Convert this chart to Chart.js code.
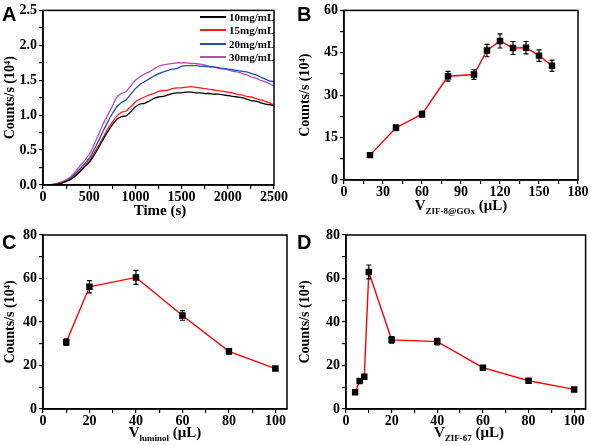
<!DOCTYPE html>
<html>
<head>
<meta charset="utf-8">
<script src="https://cdn.jsdelivr.net/npm/chart.js@4.4.0/dist/chart.umd.min.js"></script>
<style>
  body { margin: 0; background: #fff; width: 591px; height: 446px; position: relative; overflow: hidden; }
  canvas { position: absolute; }
  .letra { position: absolute; font: bold 20px "Liberation Sans", Arial, sans-serif; line-height: 1; color: #000; }
  .xt { position: absolute; font: bold 15px "Liberation Serif", serif; white-space: nowrap; transform: translateX(-50%); color: #000; line-height: 1; }
  .xt sub { font-size: 9px; vertical-align: -4px; }
  .leyenda { position: absolute; left: 200px; top: 10px; font: bold 11px "Liberation Serif", serif; color: #000; }
  .leyenda div { height: 13.5px; display: flex; align-items: center; }
  .leyenda span.linea { display: inline-block; width: 26px; height: 2px; margin-right: 3px; }
</style>
</head>
<body>

<canvas id="chartA" width="295" height="220" style="left:0;top:0"></canvas>
<canvas id="chartB" width="296" height="220" style="left:295px;top:0"></canvas>
<canvas id="chartC" width="295" height="226" style="left:0;top:220px"></canvas>
<canvas id="chartD" width="296" height="226" style="left:295px;top:220px"></canvas>

<div class="letra" style="left:2px;top:4px">A</div>
<div class="letra" style="left:297px;top:4px">B</div>
<div class="letra" style="left:2px;top:232px">C</div>
<div class="letra" style="left:297px;top:232px">D</div>

<div class="xt" style="left:160px;top:203px">Time (s)</div>
<div class="xt" style="left:461px;top:198px">V<sub>ZIF-8@GOx</sub> (μL)</div>
<div class="xt" style="left:165px;top:425px">V<sub>luminol</sub> (μL)</div>
<div class="xt" style="left:469px;top:425px">V<sub>ZIF-67</sub> (μL)</div>

<div class="leyenda" id="leyendaA"></div>

<script>
// ---------- Datos del panel A (cinética) ----------
const tiempo = [0,50,100,150,200,250,300,350,400,450,500,550,600,650,700,750,800,850,900,950,
  1000,1050,1100,1150,1200,1250,1300,1350,1400,1450,1500,1550,1600,1650,1700,1750,1800,1850,1900,1950,
  2000,2050,2100,2150,2200,2250,2300,2350,2400,2450,2500];
const serieNombres = ['10mg/mL', '15mg/mL', '20mg/mL', '30mg/mL'];
const serieColores = ['#000000', '#ff1a1a', '#1f4fb0', '#b450b4'];
const conc10 = [0,0,0.005,0.01,0.025,0.05,0.08,0.13,0.19,0.26,0.32,0.42,0.53,0.65,0.76,0.86,0.94,0.98,0.99,1.05,
  1.12,1.16,1.17,1.2,1.24,1.26,1.27,1.29,1.31,1.32,1.32,1.33,1.33,1.32,1.32,1.31,1.31,1.3,1.3,1.29,
  1.28,1.27,1.26,1.25,1.23,1.21,1.2,1.18,1.16,1.15,1.13];
const conc15 = [0,0,0.005,0.012,0.03,0.055,0.09,0.14,0.2,0.27,0.34,0.45,0.56,0.68,0.8,0.9,0.99,1.04,1.06,1.12,
  1.19,1.23,1.26,1.29,1.31,1.34,1.35,1.36,1.38,1.39,1.39,1.4,1.41,1.4,1.39,1.38,1.37,1.36,1.35,1.34,
  1.33,1.32,1.3,1.29,1.27,1.26,1.24,1.22,1.2,1.18,1.14];
const conc20 = [0,0,0.005,0.015,0.035,0.06,0.1,0.16,0.23,0.3,0.38,0.5,0.63,0.77,0.9,1.02,1.12,1.18,1.22,1.3,
  1.38,1.44,1.48,1.52,1.56,1.59,1.62,1.64,1.66,1.67,1.7,1.71,1.71,1.71,1.7,1.7,1.69,1.69,1.68,1.67,
  1.66,1.65,1.64,1.63,1.62,1.6,1.58,1.55,1.52,1.49,1.48];
const conc30 = [0,0,0.008,0.02,0.045,0.075,0.12,0.19,0.27,0.35,0.44,0.57,0.72,0.87,1.0,1.13,1.26,1.31,1.34,1.42,
  1.5,1.55,1.59,1.62,1.66,1.7,1.72,1.73,1.74,1.75,1.75,1.75,1.74,1.74,1.73,1.72,1.7,1.69,1.67,1.66,
  1.65,1.63,1.62,1.6,1.58,1.55,1.53,1.5,1.48,1.45,1.42];

// ---------- Panel B ----------
const volZif8 = [20, 40, 60, 80, 100, 110, 120, 130, 140, 150, 160];
const cuentasB = [8.8, 18.5, 23.3, 36.7, 37.3, 45.8, 49.2, 46.7, 46.8, 44.0, 40.4];
const errorB = [0.5, 1.0, 1.1, 1.7, 1.7, 2.2, 2.5, 2.3, 2.2, 2.0, 2.0];

// ---------- Panel C ----------
const volLuminol = [10, 20, 40, 60, 80, 100];
const cuentasC = [30.7, 56.2, 60.5, 43.0, 26.5, 18.6];
const errorC = [1.5, 2.8, 3.2, 2.2, 1.3, 0.8];

// ---------- Panel D ----------
const volZif67 = [4, 6, 8, 10, 20, 40, 60, 80, 100];
const cuentasD = [7.7, 12.9, 14.8, 63.0, 31.8, 31.0, 19.0, 13.0, 9.0];
const errorD = [0.5, 0.6, 0.8, 3.2, 1.5, 1.5, 0.8, 0.5, 0.5];

const fuenteTick = { family: 'Liberation Serif', weight: 'bold', size: 14 };
const fuenteTitulo = { family: 'Liberation Serif', weight: 'bold', size: 14 };

// Leyenda en HTML (panel A)
const leyenda = document.getElementById('leyendaA');
serieNombres.forEach((n, i) => {
  const d = document.createElement('div');
  d.innerHTML = '<span class="linea" style="background:' + serieColores[i] + '"></span>' + n;
  leyenda.appendChild(d);
});

// Marco y barras de error
const marcoPlugin = {
  id: 'marco',
  afterDatasetsDraw(chart) {
    const ctx = chart.ctx;
    const a = chart.chartArea;
    ctx.save();
    // barras de error
    const errs = chart.options.plugins.marco.errores;
    if (errs) {
      const ds = chart.data.datasets[0];
      ctx.strokeStyle = '#000';
      ctx.lineWidth = 1.2;
      ds.data.forEach((p, i) => {
        const x = chart.scales.x.getPixelForValue(p.x);
        const y1 = chart.scales.y.getPixelForValue(p.y - errs[i]);
        const y2 = chart.scales.y.getPixelForValue(p.y + errs[i]);
        ctx.beginPath();
        ctx.moveTo(x, y1); ctx.lineTo(x, y2);
        ctx.moveTo(x - 2.5, y1); ctx.lineTo(x + 2.5, y1);
        ctx.moveTo(x - 2.5, y2); ctx.lineTo(x + 2.5, y2);
        ctx.stroke();
      });
    }
    ctx.strokeStyle = '#000';
    ctx.lineWidth = 1.5;
    ctx.strokeRect(a.left, a.top, a.right - a.left, a.bottom - a.top);
    ctx.restore();
  }
};

function crearGrafico(id, cfg) {
  const esMayor = (v, paso) => Math.abs(v / paso - Math.round(v / paso)) < 1e-6;
  return new Chart(document.getElementById(id), {
    type: 'scatter',
    data: { datasets: cfg.datasets },
    options: {
      responsive: false,
      animation: false,
      layout: { padding: { top: cfg.top, right: cfg.right, left: 0, bottom: 0 } },
      plugins: { legend: { display: false }, tooltip: { enabled: false }, marco: { errores: cfg.errores } },
      scales: {
        x: {
          type: 'linear', min: cfg.xMin, max: cfg.xMax,
          afterFit: (s) => { s.height = cfg.xAlto; },
          border: { color: '#000', width: 1.5 },
          grid: { drawOnChartArea: false, drawTicks: true, tickLength: 4, color: '#000', lineWidth: 1.2 },
          ticks: {
            stepSize: cfg.xPaso / 2, autoSkip: false, includeBounds: false, maxRotation: 0,
            color: '#000', font: fuenteTick, padding: 0,
            callback: (v) => esMayor(v, cfg.xPaso) ? String(v) : ''
          }
        },
        y: {
          min: 0, max: cfg.yMax,
          afterFit: (s) => { s.width = cfg.yAncho; },
          border: { color: '#000', width: 1.5 },
          grid: { drawOnChartArea: false, drawTicks: true, tickLength: 4, color: '#000', lineWidth: 1.2 },
          title: { display: true, text: 'Counts/s (10\u2074)', color: '#000', font: fuenteTitulo, padding: { top: 2, bottom: 0 } },
          ticks: {
            stepSize: cfg.yPaso / 2, autoSkip: false, color: '#000', font: fuenteTick, padding: 2,
            callback: (v) => esMayor(v, cfg.yPaso) ? (cfg.yFmt ? cfg.yFmt(v) : String(v)) : ''
          }
        }
      }
    },
    plugins: [marcoPlugin]
  });
}

function puntosDe(xs, ys) { return xs.map((x, i) => ({ x: x, y: ys[i] })); }

function serieRoja(xs, ys) {
  return [{
    data: puntosDe(xs, ys), showLine: true, borderColor: '#ff0000', borderWidth: 1.4,
    pointStyle: 'rect', pointRadius: 3.6, pointBackgroundColor: '#000', pointBorderColor: '#000'
  }];
}

// Panel A
crearGrafico('chartA', {
  datasets: [conc10, conc15, conc20, conc30].map((ys, i) => ({
    data: puntosDe(tiempo, ys), showLine: true, borderColor: serieColores[i], borderWidth: 1.3,
    pointRadius: 0, tension: 0.2
  })),
  top: 7, right: 21, xAlto: 35, yAncho: 43,
  xMin: 0, xMax: 2500, xPaso: 500, yMax: 2.5, yPaso: 0.5, yFmt: (v) => v.toFixed(1)
});

// Panel B
crearGrafico('chartB', {
  datasets: serieRoja(volZif8, cuentasB), errores: errorB,
  top: 7, right: 13, xAlto: 40, yAncho: 49,
  xMin: 0, xMax: 180, xPaso: 30, yMax: 60, yPaso: 15
});

// Panel C
crearGrafico('chartC', {
  datasets: serieRoja(volLuminol, cuentasC), errores: errorC,
  top: 15, right: 8, xAlto: 37, yAncho: 43,
  xMin: 0, xMax: 105, xPaso: 20, yMax: 80, yPaso: 20
});

// Panel D
crearGrafico('chartD', {
  datasets: serieRoja(volZif67, cuentasD), errores: errorD,
  top: 15, right: 3, xAlto: 37, yAncho: 51,
  xMin: 0, xMax: 105, xPaso: 20, yMax: 80, yPaso: 20
});
</script>
</body>
</html>
